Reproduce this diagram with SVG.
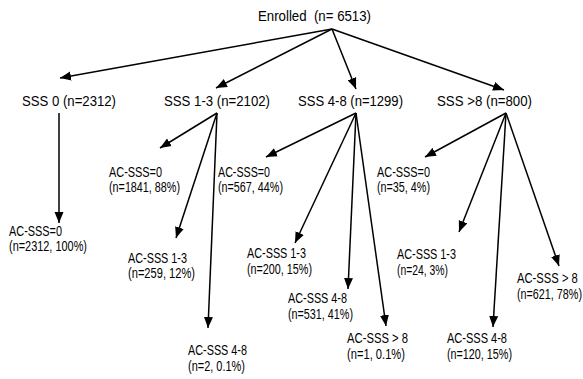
<svg xmlns="http://www.w3.org/2000/svg" width="583" height="379" viewBox="0 0 583 379">
<style>
text{font-family:"Liberation Sans",Arial,sans-serif;fill:#000}
.t1{font-size:15px}
.t2{font-size:14px}
.c line{stroke:#000;stroke-width:1.5;marker-end:url(#ah)}
</style>
<defs>
<marker id="ah" markerUnits="userSpaceOnUse" markerWidth="12" markerHeight="10" refX="11" refY="4.5" orient="auto" viewBox="0 0 12 9">
<path d="M0,0 L11,4.5 L0,9 z" fill="#000"/>
</marker>
</defs>
<rect width="583" height="379" fill="#fff"/>
<g id="connectors" class="c">
<line x1="332" y1="29" x2="60" y2="78"/>
<line x1="332" y1="29" x2="216" y2="88"/>
<line x1="332" y1="29" x2="356" y2="89"/>
<line x1="332" y1="29" x2="504" y2="90"/>
<line x1="59" y1="113" x2="59" y2="223"/>
<line x1="217" y1="113" x2="160" y2="148"/>
<line x1="217" y1="113" x2="176" y2="238"/>
<line x1="217" y1="113" x2="208" y2="328"/>
<line x1="356" y1="113" x2="266" y2="157"/>
<line x1="356" y1="113" x2="295" y2="243"/>
<line x1="356" y1="113" x2="348" y2="289"/>
<line x1="356" y1="113" x2="386" y2="326"/>
<line x1="506" y1="113" x2="425" y2="157"/>
<line x1="506" y1="113" x2="459" y2="232"/>
<line x1="506" y1="113" x2="493" y2="327"/>
<line x1="506" y1="113" x2="559" y2="266"/>
</g>
<g id="enrolled"><text class="t1" x="258" y="21" textLength="113" lengthAdjust="spacingAndGlyphs" xml:space="preserve">Enrolled  (n= 6513)</text></g>
<g id="sss0"><text class="t1" x="22" y="106" textLength="94" lengthAdjust="spacingAndGlyphs">SSS 0 (n=2312)</text></g>
<g id="sss13"><text class="t1" x="164" y="106" textLength="106" lengthAdjust="spacingAndGlyphs">SSS 1-3 (n=2102)</text></g>
<g id="sss48"><text class="t1" x="298" y="106" textLength="105" lengthAdjust="spacingAndGlyphs">SSS 4-8 (n=1299)</text></g>
<g id="sss8"><text class="t1" x="437" y="106" textLength="95" lengthAdjust="spacingAndGlyphs">SSS &gt;8 (n=800)</text></g>

<g id="sss0-ac0"><text class="t2" x="9" y="236" textLength="53" lengthAdjust="spacingAndGlyphs">AC-SSS=0</text><text class="t2" x="9" y="251" textLength="78" lengthAdjust="spacingAndGlyphs">(n=2312, 100%)</text></g>

<g id="sss13-ac0"><text class="t2" x="109" y="177" textLength="53" lengthAdjust="spacingAndGlyphs">AC-SSS=0</text><text class="t2" x="109" y="192" textLength="71" lengthAdjust="spacingAndGlyphs">(n=1841, 88%)</text></g>
<g id="sss13-ac13"><text class="t2" x="128" y="263" textLength="59" lengthAdjust="spacingAndGlyphs">AC-SSS 1-3</text><text class="t2" x="128" y="278" textLength="67" lengthAdjust="spacingAndGlyphs">(n=259, 12%)</text></g>
<g id="sss13-ac48"><text class="t2" x="188" y="355" textLength="59" lengthAdjust="spacingAndGlyphs">AC-SSS 4-8</text><text class="t2" x="188" y="371" textLength="57" lengthAdjust="spacingAndGlyphs">(n=2, 0.1%)</text></g>

<g id="sss48-ac0"><text class="t2" x="218" y="177" textLength="52" lengthAdjust="spacingAndGlyphs">AC-SSS=0</text><text class="t2" x="218" y="192" textLength="65" lengthAdjust="spacingAndGlyphs">(n=567, 44%)</text></g>
<g id="sss48-ac13"><text class="t2" x="247" y="258" textLength="59" lengthAdjust="spacingAndGlyphs">AC-SSS 1-3</text><text class="t2" x="247" y="274" textLength="65" lengthAdjust="spacingAndGlyphs">(n=200, 15%)</text></g>
<g id="sss48-ac48"><text class="t2" x="288" y="303" textLength="59" lengthAdjust="spacingAndGlyphs">AC-SSS 4-8</text><text class="t2" x="288" y="319" textLength="65" lengthAdjust="spacingAndGlyphs">(n=531, 41%)</text></g>
<g id="sss48-ac8"><text class="t2" x="347" y="343" textLength="61" lengthAdjust="spacingAndGlyphs">AC-SSS &gt; 8</text><text class="t2" x="347" y="359" textLength="58" lengthAdjust="spacingAndGlyphs">(n=1, 0.1%)</text></g>

<g id="sss8-ac0"><text class="t2" x="377" y="177" textLength="53" lengthAdjust="spacingAndGlyphs">AC-SSS=0</text><text class="t2" x="377" y="192" textLength="53" lengthAdjust="spacingAndGlyphs">(n=35, 4%)</text></g>
<g id="sss8-ac13"><text class="t2" x="397" y="259" textLength="59" lengthAdjust="spacingAndGlyphs">AC-SSS 1-3</text><text class="t2" x="397" y="275" textLength="51" lengthAdjust="spacingAndGlyphs">(n=24, 3%)</text></g>
<g id="sss8-ac48"><text class="t2" x="447" y="343" textLength="60" lengthAdjust="spacingAndGlyphs">AC-SSS 4-8</text><text class="t2" x="447" y="359" textLength="65" lengthAdjust="spacingAndGlyphs">(n=120, 15%)</text></g>
<g id="sss8-ac8"><text class="t2" transform="translate(517,283) scale(0.8,1)" x="0" y="0" textLength="76" lengthAdjust="spacingAndGlyphs">AC-SSS &gt; 8</text><text class="t2" transform="translate(517,299) scale(0.77,1)" x="0" y="0" textLength="84.4" lengthAdjust="spacingAndGlyphs">(n=621, 78%)</text></g>
</svg>
